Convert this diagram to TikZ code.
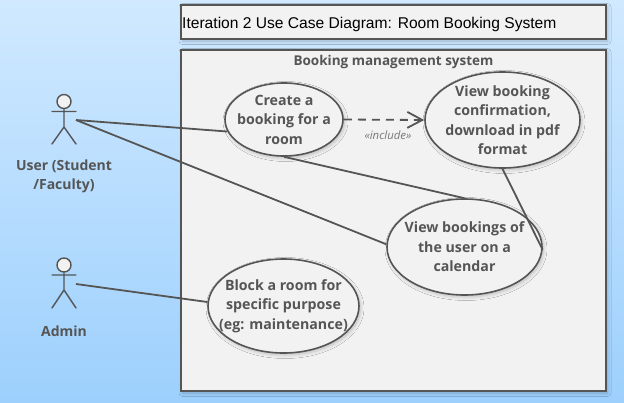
\documentclass[tikz,border=0pt]{standalone}
\usepackage{fontspec}
\setmainfont{Open Sans}
\newfontfamily\titlefont{Liberation Sans}
\usetikzlibrary{shapes.geometric,arrows.meta,shadows.blur}
\definecolor{ink}{HTML}{555555}
\definecolor{paper}{HTML}{F2F2F2}
\definecolor{skytop}{HTML}{D0E9FF}
\definecolor{skybot}{HTML}{9DD0FD}
\tikzset{
  softshadow/.style={blur shadow={shadow xshift=1.5pt,shadow yshift=-2pt,shadow blur steps=6,shadow blur radius=3.5pt,shadow opacity=22}},
  framebox/.style={draw=ink,line width=1.8pt,fill=paper,softshadow,rectangle,inner sep=0pt},
  usecase/.style={ellipse,draw=ink,line width=1.6pt,fill=paper,softshadow,inner sep=-18pt,align=center,text=ink,font=\fontsize{14.2}{19.5}\selectfont\bfseries},
  actorlabel/.style={align=center,text=ink,font=\fontsize{14}{19.5}\selectfont\bfseries},
  assoc/.style={draw=ink,line width=1.8pt},
  incl/.style={draw=ink,line width=1.8pt,dash pattern=on 8pt off 6pt,-{Straight Barb[length=15pt,width=16pt,line width=1.8pt]}},
  limb/.style={draw=ink,line width=1.4pt,line cap=round},
  headnode/.style={circle,draw=ink,line width=1.4pt,fill=paper,minimum size=14pt,inner sep=0pt},
}
\begin{document}
\begin{tikzpicture}[x=1pt,y=-1pt]
\useasboundingbox (0,0) rectangle (624,402);
\shade[top color=skytop,bottom color=skybot] (0,0) rectangle (624,402);
\node[framebox,minimum width=425pt,minimum height=34pt] (titlebox) at (393.5,22) {};
\node[anchor=west,inner sep=0pt,font=\titlefont\fontsize{15.6}{20}\selectfont,text=black] (titletext) at (182,24.5) {Iteration 2 Use Case Diagram: Room Booking System};
\node[framebox,minimum width=425pt,minimum height=341pt] (sysbox) at (393.5,220.5) {};
\node[text=ink,inner sep=0pt,font=\fontsize{13.5}{16}\selectfont\bfseries] (systitle) at (393.5,62) {Booking management system};
\node[usecase,minimum width=118pt,minimum height=73pt] (create) at (284,119.5) {Create a\\booking for a\\room};
\node[usecase,minimum width=155pt,minimum height=96pt] (confirm) at (502.5,120) {View booking\\confirmation,\\download in pdf\\format};
\node[usecase,minimum width=155pt,minimum height=96pt] (calendar) at (464.5,247) {View bookings of\\the user on a\\calendar};
\node[usecase,minimum width=151pt,minimum height=94pt] (block) at (283.5,306) {Block a room for\\specific purpose\\(eg: maintenance)};
% User actor
\node[headnode] (userhead) at (64,101.5) {};
\coordinate (userhip) at (64,127);
\coordinate (userla) at (52,111.5);
\coordinate (userra) at (76,111.5);
\coordinate (userlf) at (52,144);
\coordinate (userrf) at (76,144);
\coordinate (userport) at (76,120);
\draw[limb] (userhead) -- (userhip) -- (userlf) (userhip) -- (userrf) (userla) -- (userra);
\node[actorlabel] (userlabel) at (64,176.5) {User (Student\\/Faculty)};
% Admin actor
\node[headnode] (adminhead) at (64,265) {};
\coordinate (adminhip) at (64,290);
\coordinate (adminla) at (52,275);
\coordinate (adminra) at (76,275);
\coordinate (adminlf) at (52,308);
\coordinate (adminrf) at (76,308);
\coordinate (adminport) at (76,284);
\draw[limb] (adminhead) -- (adminhip) -- (adminlf) (adminhip) -- (adminrf) (adminla) -- (adminra);
\node[actorlabel] (adminlabel) at (64,331) {Admin};
% connectors
\draw[assoc] (userport) -- (create.192);
\draw[assoc] (userport) -- (calendar.178);
\draw[assoc] (adminport) -- (block.177);
\draw[assoc] (create.270) -- (calendar.90);
\draw[assoc] (confirm.270) -- (calendar.-2);
\draw[incl] (create.0) -- (confirm.180);
\node[text=ink!80,inner sep=0pt,font=\fontsize{11.4}{12}\selectfont\itshape] (incllabel) at (388,135) {«include»};
\end{tikzpicture}
\end{document}
